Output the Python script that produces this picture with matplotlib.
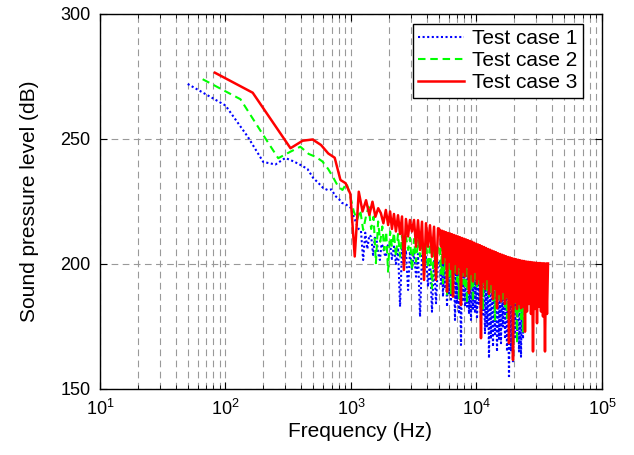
import matplotlib
matplotlib.use('Agg')
import matplotlib.pyplot as plt
from matplotlib.ticker import FixedLocator, LogLocator, NullFormatter

plt.rcParams['font.family'] = ['Liberation Sans', 'DejaVu Sans']
plt.rcParams['mathtext.fontset'] = 'custom'
plt.rcParams['mathtext.rm'] = 'Liberation Sans'
plt.rcParams['mathtext.it'] = 'Liberation Sans:italic'

# low frequency part of each spectrum (Hz, dB)
freq1_low = [50, 100, 150, 200, 250, 300, 350, 400, 450, 500,
             550, 600, 650, 700, 750, 800, 850, 900, 950, 1000,
             1050, 1100, 1150, 1200, 1250, 1300, 1350, 1400, 1450, 1500,
             1550, 1600, 1650, 1700, 1750, 1800, 1850, 1900, 1950, 2000]
spl1_low = [272, 263.4, 251, 240.8, 239.8, 242.4, 241.0, 239.5, 238.0, 234.4,
            232.4, 230.4, 229.6, 229.8, 227.2, 226.0, 224.4, 224.0, 223.2, 222.4,
            219, 216.5, 214, 213.5, 201.6, 212.5, 206, 211.5, 210.9, 203.6,
            210.5, 209.6, 204, 201.6, 208, 206.9, 204, 202.9, 207, 208.3]

freq2_low = [65.8, 131.6, 197.4, 263.2, 329, 394.8, 460.6, 526.4, 592.2, 658,
             723.8, 789.6, 855.4, 921.2, 987, 1052.8, 1118.6, 1184.4, 1250.2, 1316,
             1381.8, 1447.6, 1513.4, 1579.2, 1645, 1710.8, 1776.6, 1842.4, 1908.2, 1974]
spl2_low = [273.9, 265.9, 252, 242.3, 244.9, 246.9, 244, 242.8, 241, 238,
            234.5, 231, 229.6, 232.3, 227, 221, 217.6, 221.6, 213.6, 219,
            222.9, 214, 218.9, 200.3, 217, 208.9, 215, 205.6, 213, 196.9]

freq3_low = [82.4, 164.8, 247.2, 329.6, 412, 494.4, 576.8, 659.2, 741.6, 824,
             906.4, 988.8, 1071.2, 1153.6, 1236, 1318.4, 1400.8, 1483.2, 1565.6, 1648,
             1730.4, 1812.8, 1895.2, 1977.6]
spl3_low = [276.5, 268.5, 255.5, 246.3, 249.3, 249.8, 247.6, 244.2, 242.5, 233.6,
            232.3, 228, 203, 228.9, 221, 225.5, 219.6, 224.9, 218.9, 222.3,
            220.3, 216.3, 221.6, 215.6]

# high frequency part: alternating peaks and dips
freq_hi = [2050, 2120, 2200, 2280, 2370, 2460, 2550, 2640, 2740, 2850,
           2950, 3060, 3180, 3300, 3420, 3550, 3680, 3820, 3960, 4110,
           4260, 4420, 4590, 4760, 4940,
           5120, 5217, 5314, 5412, 5513, 5615, 5719, 5825, 5932, 6042,
           6150, 6267, 6381, 6499, 6619, 6742, 6867, 6994, 7122, 7254,
           7388, 7525, 7664, 7806, 7951, 8098, 8248, 8401, 8557, 8715,
           8877, 9041, 9208, 9379, 9553, 9730, 9908, 10092, 10280, 10470,
           10665, 10862, 11063, 11268, 11478, 11690, 11907, 12128, 12351, 12580,
           12814, 13051, 13292, 13539, 13789, 14045, 14306, 14571, 14840, 15115,
           15396, 15681, 15971, 16267, 16567, 16874, 17187, 17505, 17827, 18158,
           18493, 18836, 19187, 19542, 19903, 20272, 20646, 21029, 21420, 21817,
           22220, 22632, 23048, 23475, 23912, 24354, 24803, 25263, 25734, 26211,
           26697, 27191, 27693, 28206, 28732, 29264, 29803, 30355, 30917, 31489,
           32063, 32657, 33268, 33884, 34503, 35142, 35801, 36464, 37134]

spl1_hi = [208, 202, 207, 200, 206.5, 182.9, 206, 199, 205.5, 189.6,
           205, 198, 204.5, 194.9, 204, 178.9, 203.3, 196, 202.8, 190.9,
           202.3, 180.9, 201.8, 184.3, 201.3,
           201.2, 192, 200.8, 186.9, 200.5, 190, 200.2, 182.9, 199.9, 188,
           199.6, 185, 199.3, 188, 199, 177.6, 198.7, 184, 198.4, 180,
           198.1, 167.6, 197.8, 185, 197.5, 183, 197.2, 182.9, 196.9, 180,
           196.6, 177.6, 196.3, 182, 196, 180.3, 195.7, 178, 195.4, 184,
           195.1, 176, 194.8, 179, 194.5, 172, 194.2, 175, 193.9, 162.3,
           193.6, 170, 193.3, 166.9, 193, 172, 192.7, 164.9, 192.4, 170,
           192.1, 168.3, 191.8, 175, 191.5, 170, 191.2, 165, 190.9, 154.3,
           190.6, 165, 190.3, 160.3, 190, 170, 189.7, 172, 189.4, 165,
           189.1, 162.9, 188.8, 170, 188.5]

spl2_hi = [213, 206.9, 212.5, 203, 212, 202.9, 211.5, 204, 211, 205.6,
           210.5, 197.6, 210, 200.9, 209.5, 203, 209, 196.3, 208.6, 198.3,
           208.2, 190.3, 207.8, 193.6, 207.4,
           207.2, 196, 207, 192.3, 206.8, 198, 206.6, 186.9, 206.4, 195,
           206.2, 188.3, 206, 186.3, 205.8, 196, 205.6, 193, 205.4, 186.3,
           205.2, 195, 205, 192, 204.8, 190, 204.6, 184.3, 204.4, 194,
           204.2, 190, 204, 184.9, 203.8, 193, 203.5, 191, 203.3, 192,
           203, 188, 202.8, 181.6, 202.5, 190, 202.3, 189, 202, 186,
           201.8, 188, 201.5, 185, 201.3, 177.6, 201, 187, 200.8, 186,
           200.5, 184, 200.3, 186, 200, 183, 199.8, 178.3, 199.5, 185,
           199.3, 183, 199, 185, 198.8, 181, 198.5, 168.3, 198.3, 180,
           198, 178, 197.8, 172.9, 197.5, 180, 197.3, 182, 197]

spl3_hi = [221, 214, 220, 213, 219.5, 212, 219, 197.6, 218, 211,
           217.6, 213, 217.6, 206.9, 217.5, 205.6, 216.9, 193.6, 216.3, 206.9,
           215.5, 202.9, 214.9, 193.6, 214.3,
           213.6, 207, 213.3, 200.3, 213, 203, 212.7, 188.9, 212.4, 201,
           212.2, 198, 211.9, 186.9, 211.6, 200, 211.3, 196, 211, 199,
           210.7, 183.6, 210.4, 197, 210.1, 195, 209.8, 199, 209.5, 188.3,
           209.2, 196, 208.9, 193, 208.5, 197, 208.1, 192, 207.8, 194,
           207.5, 170.3, 207.1, 193, 206.8, 190, 206.4, 194, 206, 188,
           205.7, 192, 205.3, 186, 205, 190, 204.7, 182.3, 204.3, 188,
           204, 185, 203.7, 189, 203.4, 184, 203.1, 187, 202.8, 168.3,
           202.6, 184, 202.3, 161.6, 202.1, 185, 201.9, 182, 201.7, 184,
           201.5, 182.3, 201.3, 183, 201.2, 172.9, 201, 181, 200.9, 184,
           200.8, 180, 200.7, 165, 200.6, 182, 200.5, 176.3, 200.4, 183,
           200.4, 181, 200.3, 179, 200.3, 165, 200.2, 180, 200.2]

f1 = freq1_low + freq_hi[:len(spl1_hi)]
f2 = freq2_low + freq_hi[:len(spl2_hi)]
f3 = freq3_low + freq_hi[:len(spl3_hi)]
s1 = spl1_low + spl1_hi
s2 = spl2_low + spl2_hi
s3 = spl3_low + spl3_hi

fig = plt.figure(figsize=(6.34, 4.55), dpi=100)
ax = fig.add_axes([0.1577, 0.1451, 0.7918, 0.8242])

ax.semilogx(f1, s1, color=(0, 0, 1), ls=(0, (1, 1.2)), lw=1.5, label='Test case 1')
ax.semilogx(f2, s2, color=(0, 1, 0), ls=(0, (3.6, 2.3)), lw=1.5, label='Test case 2')
ax.semilogx(f3, s3, color=(1, 0, 0), lw=1.8, label='Test case 3')

ax.set_xlim(10, 1e5)
ax.set_ylim(150, 300)
ax.set_yticks([150, 200, 250, 300])
ax.xaxis.set_major_locator(FixedLocator([10, 100, 1000, 10000, 100000]))
ax.xaxis.set_minor_locator(LogLocator(base=10, subs=range(2, 10)))
ax.xaxis.set_minor_formatter(NullFormatter())

ax.set_axisbelow(True)
ax.grid(True, which='both', axis='x', color='0.6', ls=(0, (6, 4)), lw=0.8)
ax.grid(True, which='major', axis='y', color='0.6', ls=(0, (6, 4)), lw=0.8)
ax.tick_params(which='both', direction='in', top=True, right=True, labelsize=13)
ax.tick_params(which='major', length=5, width=0.8)
ax.tick_params(which='minor', length=3, width=0.6)
ax.tick_params(axis='x', pad=7)
ax.tick_params(axis='y', pad=7)
for sp in ax.spines.values():
    sp.set_linewidth(1.0)

ax.set_xlabel('Frequency (Hz)', fontsize=15)
ax.xaxis.set_label_coords(0.518, -0.088)
ax.set_ylabel('Sound pressure level (dB)', fontsize=15, labelpad=15)

leg = ax.legend(loc='upper right', bbox_to_anchor=(0.9622, 0.9733), borderaxespad=0,
                fontsize=15, handlelength=2.2, handletextpad=0.4, labelspacing=0.15,
                borderpad=0.25, fancybox=False, edgecolor='black', framealpha=1)
leg.get_frame().set_linewidth(1.0)

fig.savefig('out.png', dpi=100)
